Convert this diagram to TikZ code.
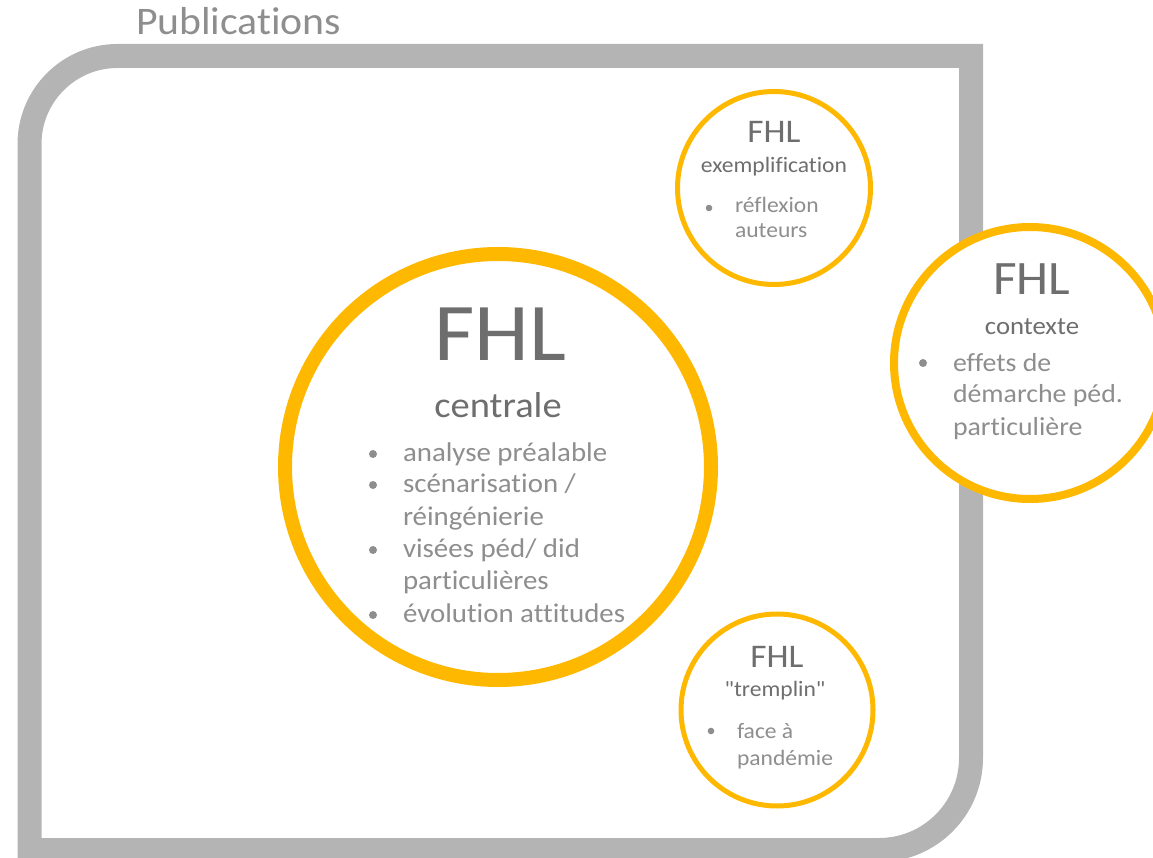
\documentclass[tikz,border=0pt]{standalone}
\usepackage{fontspec}
\setmainfont{Carlito}[FakeStretch=1.07,Ligatures={TeXOff,CommonOff}]
\definecolor{frameg}{HTML}{B4B4B4}
\definecolor{orng}{HTML}{FFB800}
\definecolor{dark}{HTML}{6E6E6E}
\definecolor{light}{HTML}{8E8E8E}
\tikzset{
  framestyle/.style={draw=frameg,line width=24pt,line join=miter},
  ring/.style={draw=orng,fill=white},
  txt/.style={inner sep=0pt,outer sep=0pt,anchor=base},
  head/.style={txt,text=dark},
  item/.style={txt,anchor=base west,text=light},
  dot/.style={fill=light,draw=none},
}
\newcommand{\fs}[1]{\fontsize{#1}{#1}\selectfont}
\begin{document}
\begin{tikzpicture}[x=1pt,y=1pt]
\useasboundingbox (0,0) rectangle (1153,857);
\begin{scope}
\clip (0,0) rectangle (1153,857);
% frame
\draw[framestyle] (29.5,7) -- (29.5,713) arc[start angle=180,end angle=90,radius=88] -- (971,801) -- (971,99) arc[start angle=0,end angle=-90,radius=92] -- cycle;
% circles
\draw[ring,line width=14pt] (498,390) circle[radius=213];
\draw[ring,line width=5pt] (774,669) circle[radius=96.5];
\draw[ring,line width=8pt] (1030,494) circle[radius=136];
\draw[ring,line width=5pt] (777,147) circle[radius=96];
\end{scope}
% title
\node[txt,anchor=base west,text=light,font=\fs{39}] (pub) at (136,822) {Publications};
% central
\node[head,font=\fs{82}] (c1) at (500,496) {FHL};
\node[head,font=\fs{36}] (c2) at (498,439) {centrale};
\node[item,font=\fs{27}] (c3) at (403,395) {analyse préalable};
\node[item,font=\fs{27}] (c4) at (403,364) {scénarisation /};
\node[item,font=\fs{27}] (c5) at (403,331) {réingénierie};
\node[item,font=\fs{27}] (c6) at (403,299) {visées péd/ did};
\node[item,font=\fs{27}] (c7) at (403,267) {particulières};
\node[item,font=\fs{27}] (c8) at (403,234) {évolution attitudes};
\fill[dot] (373,403) circle[radius=4];
\fill[dot] (373,372) circle[radius=4];
\fill[dot] (373,307) circle[radius=4];
\fill[dot] (373,242) circle[radius=4];
% exemplification
\node[head,font=\fs{33}] (e1) at (774,714) {FHL};
\node[head,font=\fs{22}] (e2) at (774,684) {exemplification};
\node[item,font=\fs{22}] (e3) at (735,644) {réflexion};
\node[item,font=\fs{22}] (e4) at (735,619) {auteurs};
\fill[dot] (709,649) circle[radius=3.3];
% contexte
\node[head,font=\fs{48}] (k1) at (1032,562) {FHL};
\node[head,font=\fs{25}] (k2) at (1032,522) {contexte};
\node[item,font=\fs{26}] (k3) at (953,485) {effets de};
\node[item,font=\fs{26}] (k4) at (953,454) {démarche péd.};
\node[item,font=\fs{26}] (k5) at (953,421) {particulière};
\fill[dot] (923,494) circle[radius=4];
% tremplin
\node[head,font=\fs{33}] (t1) at (777,190) {FHL};
\node[head,font=\fs{22}] (t2) at (775,161) {"tremplin"};
\node[item,font=\fs{22}] (t3) at (737,119) {face à};
\node[item,font=\fs{22}] (t4) at (737,92) {pandémie};
\fill[dot] (711,126) circle[radius=3.3];
\end{tikzpicture}
\end{document}
